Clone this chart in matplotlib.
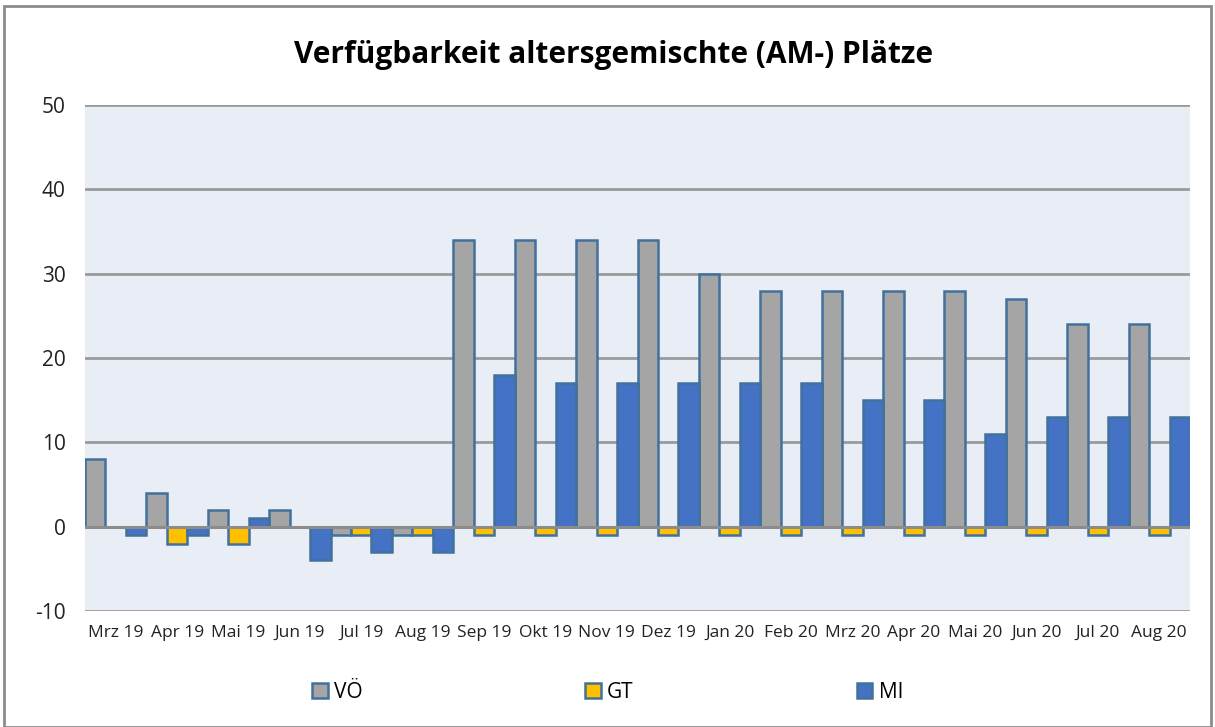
import numpy as np
import matplotlib.pyplot as plt
from matplotlib.patches import Rectangle

plt.rcParams['font.family'] = ['Open Sans', 'DejaVu Sans']
plt.rcParams['axes.unicode_minus'] = False

# Daten
monate = ['Mrz 19', 'Apr 19', 'Mai 19', 'Jun 19', 'Jul 19', 'Aug 19', 'Sep 19', 'Okt 19', 'Nov 19',
          'Dez 19', 'Jan 20', 'Feb 20', 'Mrz 20', 'Apr 20', 'Mai 20', 'Jun 20', 'Jul 20', 'Aug 20']
voe = [8, 4, 2, 2, -1, -1, 34, 34, 34, 34, 30, 28, 28, 28, 28, 27, 24, 24]
gt = [0, -2, -2, 0, -1, -1, -1, -1, -1, -1, -1, -1, -1, -1, -1, -1, -1, -1]
mi = [-1, -1, 1, -4, -3, -3, 18, 17, 17, 17, 17, 17, 15, 15, 11, 13, 13, 13]

farben = {'VÖ': '#A5A5A5', 'GT': '#FFC000', 'MI': '#4472C4'}
rand = '#41719C'

fig = plt.figure(figsize=(12.15, 7.27), dpi=100)
ax = fig.add_axes([85 / 1215, 1 - 611 / 727, 1105 / 1215, 506 / 727])
ax.set_facecolor('#E9EDF6')

x = np.arange(len(monate))
b = 1 / 3
for i, (name, werte) in enumerate([('VÖ', voe), ('GT', gt), ('MI', mi)]):
    ax.bar(x - 0.5 + b * (i + 0.5), werte, width=b, color=farben[name],
           edgecolor=rand, linewidth=1.8, label=name, zorder=3)

ax.set_xlim(-0.5, len(monate) - 0.5)
ax.set_ylim(-10, 50)
ax.set_yticks(range(-10, 51, 10))
ax.set_xticks(x)
ax.set_xticklabels(monate, fontsize=12.5, color='#222222')
ax.tick_params(axis='y', labelsize=15, colors='#222222', length=0, pad=14)
ax.tick_params(axis='x', length=0, pad=10)
ax.grid(axis='y', color='#9A9A9A', linewidth=2, zorder=1)
ax.axhline(0, color='#8C8C8C', linewidth=2.2, zorder=4)
for s in ax.spines.values():
    s.set_visible(False)

fig.text(0.505, 0.925, 'Verfügbarkeit altersgemischte (AM-) Plätze', ha='center', va='center',
         fontsize=21.5, fontweight='bold')

fig.legend(loc='center', bbox_to_anchor=(0.5, 1 - 692 / 727), ncol=3, frameon=False,
           fontsize=15, handlelength=0.75, handleheight=0.75, handletextpad=0.3, columnspacing=10.7)

fig.patches.append(Rectangle((4 / 1215, 0), 1 - 8 / 1215, 1 - 6 / 727, transform=fig.transFigure,
                             fill=False, edgecolor='#8C8C8C', linewidth=2))

fig.savefig('out.png', dpi=100)
